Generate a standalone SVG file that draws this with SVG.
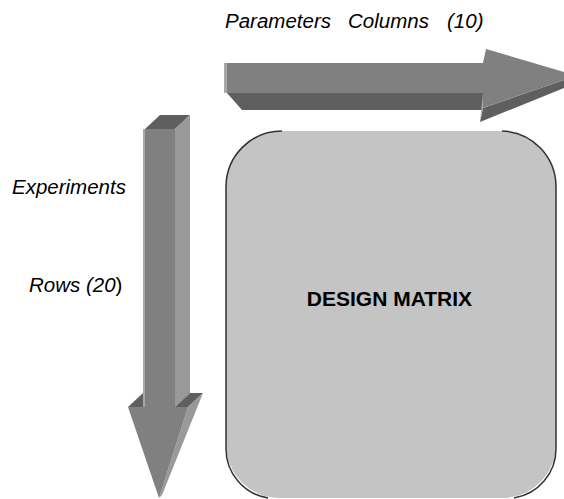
<svg xmlns="http://www.w3.org/2000/svg" width="564" height="499" viewBox="0 0 564 499">
<style>
.lbl{font-family:"Liberation Sans",Arial,sans-serif;font-size:20.5px;font-style:italic;fill:#000}
.bold{font-family:"Liberation Sans",Arial,sans-serif;font-size:21px;font-weight:bold;fill:#000}
.front{fill:#808080}
.dark{fill:#5f5f5f}
.light{fill:#999999}
.hl{fill:#a8a8a8}
</style>
<rect width="564" height="499" fill="#fff"/>
<g id="matrix">
<rect x="226" y="131" width="330" height="367" rx="54" ry="54" fill="#c4c4c4"/>
<path d="M282,131 A56,56 0 0 0 226,187 L226,448 A50,50 0 0 0 268,498 M514,498 A50,50 0 0 0 556,448 L556,187 A56,56 0 0 0 502,131" fill="none" stroke="#333" stroke-width="1.5"/>
<text class="bold" x="389.5" y="306" text-anchor="middle">DESIGN MATRIX</text>
</g>
<g id="columns-arrow">
<polygon class="dark" points="227,93 483,93 483,110 242,110"/>
<polygon class="front" points="224,63 483,63 483,93 224,93"/>
<rect class="hl" x="224" y="63" width="3" height="30"/>
<polygon class="dark" points="483,108 564,80 564,88 480,122"/>
<polygon class="front" points="483,63 486,49 564,72 564,80 483,108"/>
<polygon class="hl" points="480,122 483,108 483,93"/>
</g>
<g id="rows-arrow">
<polygon class="dark" points="145,129 160,115 190,115 175,129"/>
<polygon class="light" points="175,129 190,115 190,393 175,407"/>
<polygon class="front" points="143,129 175,129 175,407 143,407"/>
<rect class="hl" x="143" y="129" width="2" height="278"/>
<polygon class="dark" points="128,407 143,393 143,407"/>
<polygon class="dark" points="175,407 190,393 203,393 188,407"/>
<polygon class="light" points="188,407 203,393 162,495 159,498"/>
<polygon class="front" points="128,407 188,407 159,498"/>
</g>
<g id="labels">
<text class="lbl" x="225" y="28">Parameters</text>
<text class="lbl" x="348" y="28">Columns</text>
<text class="lbl" x="447" y="28">(10)</text>
<text class="lbl" x="12" y="194">Experiments</text>
<text class="lbl" x="29" y="292">Rows (20<tspan font-style="normal">)</tspan></text>
</g>
</svg>
